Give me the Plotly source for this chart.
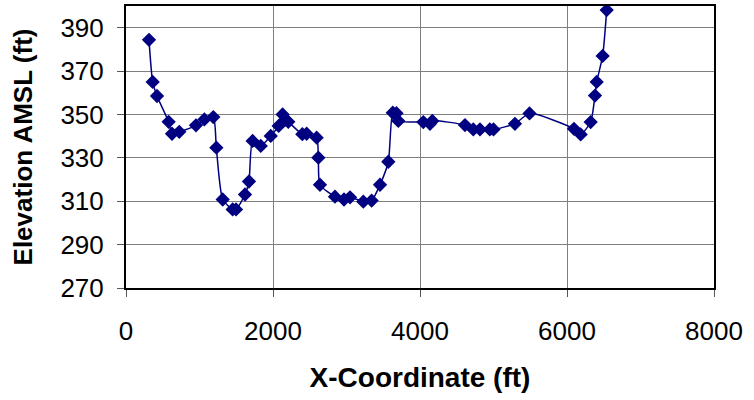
import plotly.graph_objects as go

# Survey profile: easting (ft) and ground elevation above mean sea level (ft)
x_coord = [313, 363, 422, 580, 626, 725, 952, 1066, 1188, 1229, 1316, 1451, 1497,
           1619, 1673, 1723, 1833, 1969, 2077, 2131, 2168, 2208, 2399, 2458, 2594,
           2617, 2639, 2843, 2966, 3048, 3229, 3342, 3456, 3569, 3630, 3680, 3705,
           4045, 4136, 4168, 4612, 4725, 4816, 4950, 5000, 5292, 5490, 6095, 6186,
           6322, 6381, 6404, 6485, 6540]
elevation = [384.4, 365.0, 358.5, 346.6, 341.1, 342.0, 345.0, 347.7, 348.8, 334.7,
             310.8, 306.2, 306.2, 313.1, 319.1, 337.8, 335.5, 340.1, 344.7, 350.0,
             347.7, 346.6, 340.9, 341.1, 339.3, 330.1, 317.6, 312.1, 310.8, 311.8,
             309.8, 310.3, 317.6, 328.2, 350.8, 350.6, 347.0, 346.5, 345.7, 347.0,
             345.1, 343.1, 343.1, 343.1, 343.1, 345.7, 350.5, 343.4, 340.8, 346.5,
             358.7, 365.0, 377.0, 398.1]

x_ticks = [0, 2000, 4000, 6000, 8000]
y_ticks = [270, 290, 310, 330, 350, 370, 390]

navy = "#000080"
font_family = "Liberation Sans, Arial, sans-serif"

fig = go.Figure()
fig.add_trace(go.Scatter(
    x=x_coord, y=elevation,
    mode="lines+markers",
    line=dict(color=navy, width=1.5, shape="spline", smoothing=0.6),
    marker=dict(symbol="diamond", size=11, color=navy),
    showlegend=False,
))

axis_common = dict(
    showline=True, mirror=True, linecolor="black", linewidth=2,
    showgrid=True, gridcolor="#7f7f7f", gridwidth=1,
    zeroline=False,
    ticks="outside", ticklen=7, tickcolor="#555555", tickwidth=1,
    tickfont=dict(family=font_family, size=26, color="black"),
)

fig.update_xaxes(
    range=[0, 8000], tickvals=x_ticks, ticktext=[str(v) for v in x_ticks],
    ticklabelstandoff=12,
    title=dict(text="<b>X-Coordinate (ft)</b>", standoff=22,
               font=dict(family=font_family, size=28, color="black")),
    **axis_common,
)
fig.update_yaxes(
    range=[270, 400], tickvals=y_ticks, ticktext=[str(v) for v in y_ticks],
    ticklabelstandoff=8,
    title=dict(text="<b>Elevation AMSL (ft)</b>", standoff=20,
               font=dict(family=font_family, size=26, color="black")),
    **axis_common,
)

fig.update_layout(
    width=754, height=400,
    margin=dict(l=126, r=40, t=4, b=112),
    paper_bgcolor="white", plot_bgcolor="white",
)

fig.write_html("out.html")
